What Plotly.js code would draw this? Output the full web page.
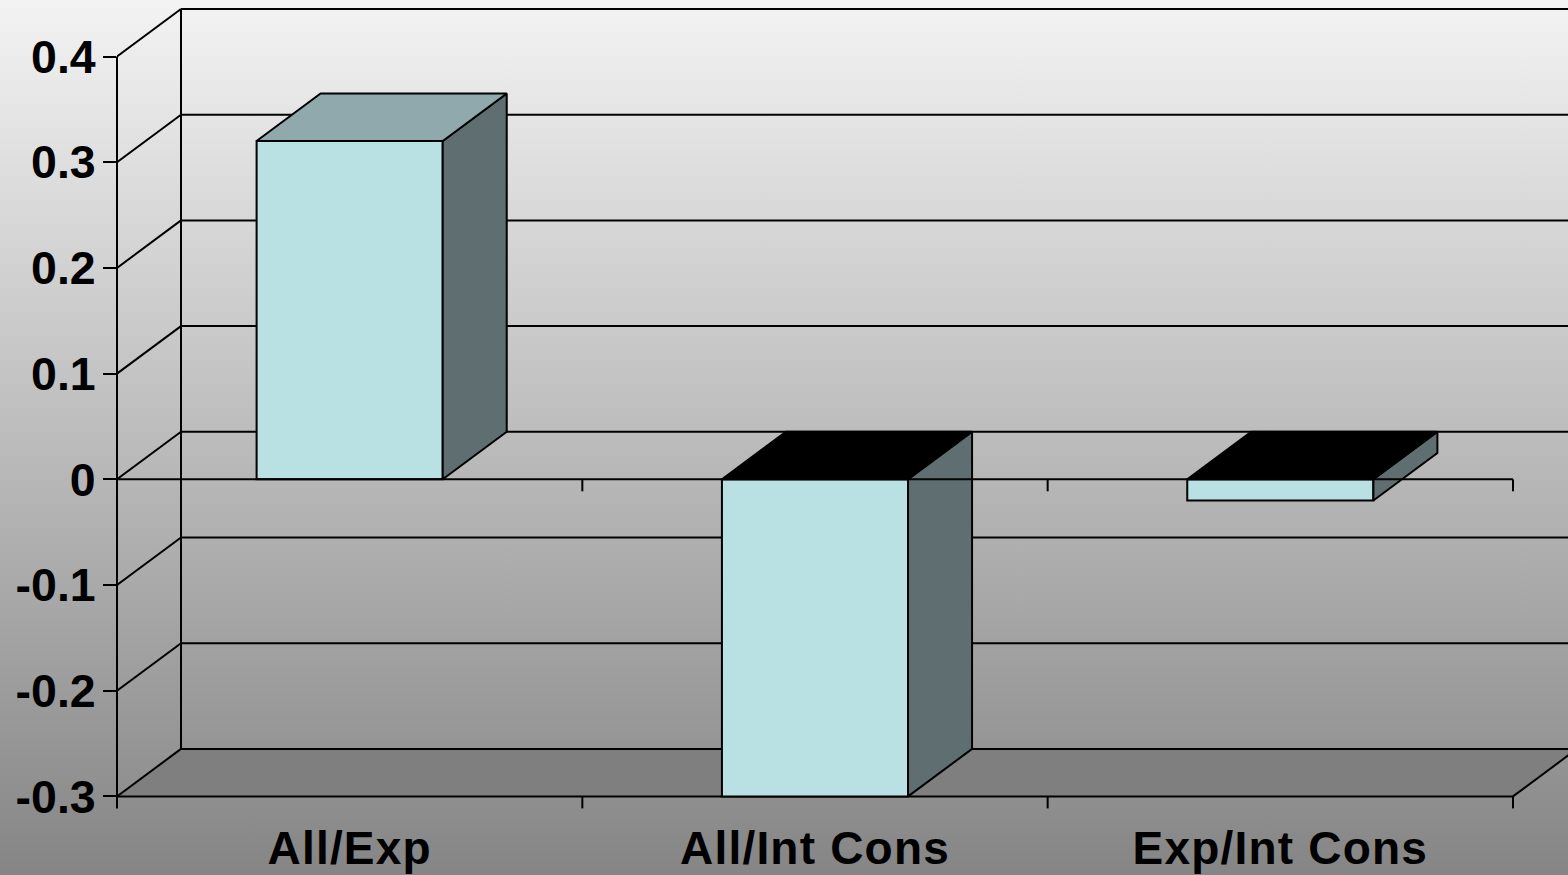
<!DOCTYPE html>
<html>
<head>
<meta charset="utf-8">
<script src="https://cdn.plot.ly/plotly-3.0.1.min.js"></script>
<style>
  html, body { margin: 0; padding: 0; width: 1568px; height: 875px; overflow: hidden; }
  body { background: linear-gradient(180deg, #f3f3f3 0%, #858585 100%); }
  #chart { width: 1568px; height: 875px; }
  #chart .xtick text { letter-spacing: 1.2px; }
</style>
</head>
<body>
<div id="chart"></div>
<script>
// Values of the three group comparisons
const categories = ['All/Exp', 'All/Int Cons', 'Exp/Int Cons'];
const values = [0.32, -0.3, -0.02];
const tickValues = [0.4, 0.3, 0.2, 0.1, 0, -0.1, -0.2, -0.3];
const tickLabels = ['0.4', '0.3', '0.2', '0.1', '0', '-0.1', '-0.2', '-0.3'];

// Axis extents and the oblique depth of the pseudo-3D box, in data units
const yMin = -0.3, yMax = 0.4;
const xStart = -0.5, xEnd = 2.5;
const barWidth = 0.4;
const depthX = 64 / 465.33;
const depthY = 47.5 / 1057;
const tickDrop = 12 / 1057;

const colFront = '#b9e0e3', colTop = '#8fa9ac', colSide = '#5e6e71', colFloor = '#7f7f7f';
const ink = { color: '#000', width: 2 };

const segment = (x0, y0, x1, y1, w) => ({
  type: 'line', layer: 'below', xref: 'x', yref: 'y',
  x0, y0, x1, y1, line: { color: '#000', width: w || 2 }
});

const shapes = [];

// Floor of the box
shapes.push({
  type: 'path', layer: 'below', xref: 'x', yref: 'y',
  path: `M${xStart},${yMin} L${xStart + depthX},${yMin + depthY} L${xEnd + depthX},${yMin + depthY} L${xEnd},${yMin} Z`,
  fillcolor: colFloor, line: { color: 'rgba(0,0,0,0)', width: 0 }
});

// Gridlines across the side wall and along the back wall
tickValues.forEach(v => {
  shapes.push(segment(xStart, v, xStart + depthX, v + depthY));
  shapes.push(segment(xStart + depthX, v + depthY, xEnd + depthX, v + depthY));
});

// Box edges
shapes.push(segment(xStart + depthX, yMin + depthY, xStart + depthX, yMax + depthY));
shapes.push(segment(xStart, yMin, xEnd, yMin));
shapes.push(segment(xEnd, yMin, xEnd + depthX, yMin + depthY));

// Front vertical edge on the plot's left border; anchoring x to the plot domain
// keeps its full width from being clipped
shapes.push({
  type: 'line', layer: 'below', xref: 'x domain', yref: 'y',
  x0: 0, x1: 0, y0: yMax, y1: yMin - tickDrop, line: ink
});

// Category boundary ticks on the zero line and on the bottom edge
for (let i = 1; i <= categories.length; i++) {
  const x = xStart + i;
  shapes.push(segment(x, 0, x, -tickDrop));
  shapes.push(segment(x, yMin, x, yMin - tickDrop));
}

const positions = categories.map((_, i) => i);

const front = {
  type: 'bar', x: positions, y: values, width: barWidth,
  marker: { color: colFront, line: ink }, hoverinfo: 'skip', showlegend: false
};

// Oblique faces derived from each bar's value
const face = (xs, ys, color) => ({
  type: 'scatter', mode: 'lines', x: xs, y: ys, fill: 'toself', fillcolor: color,
  line: ink, hoverinfo: 'skip', showlegend: false
});

const faces = [];
values.forEach((v, i) => {
  const l = i - barWidth / 2, r = i + barWidth / 2;
  const top = Math.max(v, 0), low = Math.min(v, 0);
  faces.push(face(
    [r, r + depthX, r + depthX, r, r],
    [top, top + depthY, low + depthY, low, top], colSide));
  faces.push(face(
    [l, l + depthX, r + depthX, r, l],
    [top, top + depthY, top + depthY, top, top], v >= 0 ? colTop : '#000'));
});

// The zero line runs over the bars' side faces
const zeroLine = {
  type: 'scatter', mode: 'lines', x: [xStart, xEnd], y: [0, 0],
  line: ink, hoverinfo: 'skip', showlegend: false
};

const layout = {
  width: 1568, height: 875,
  margin: { l: 117, r: 0, t: 4, b: 66, pad: 0 },
  paper_bgcolor: 'rgba(0,0,0,0)', plot_bgcolor: 'rgba(0,0,0,0)',
  showlegend: false,
  barmode: 'overlay',
  font: { family: '"Liberation Sans", Arial, sans-serif', size: 46, color: '#000', weight: 700 },
  xaxis: {
    type: 'linear', range: [xStart, xStart + 1451 / 465.33],
    tickmode: 'array', tickvals: positions, ticktext: categories,
    ticks: '', showgrid: false, zeroline: false, showline: false,
    tickfont: { size: 46, weight: 700 }, ticklabelstandoff: 8
  },
  yaxis: {
    type: 'linear', range: [-329.7 / 1057, 475.3 / 1057],
    tickmode: 'array', tickvals: tickValues, ticktext: tickLabels,
    ticks: 'outside', ticklen: 13, tickwidth: 2, tickcolor: '#000',
    showgrid: false, zeroline: false, showline: false,
    tickfont: { size: 46.5, weight: 700 }, ticklabelstandoff: -2
  },
  shapes
};

Plotly.newPlot('chart', [front, ...faces, zeroLine], layout, { staticPlot: true, displayModeBar: false });
</script>
</body>
</html>
